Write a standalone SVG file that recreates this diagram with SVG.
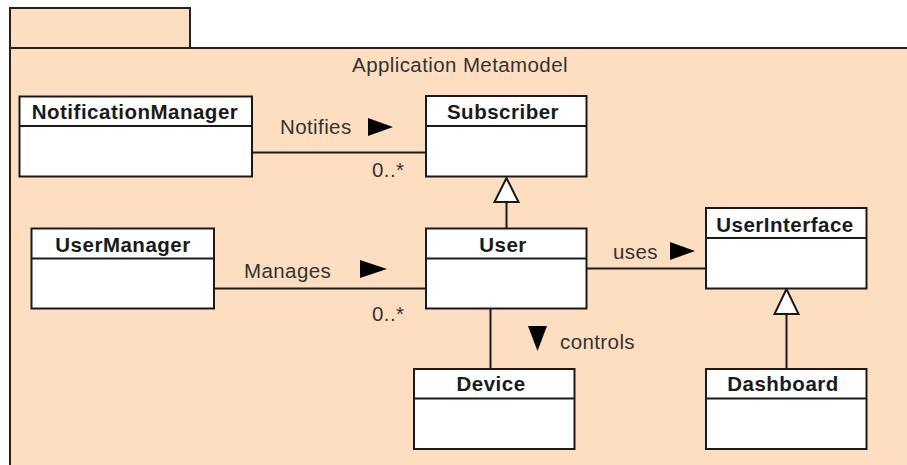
<svg xmlns="http://www.w3.org/2000/svg" width="907" height="465" viewBox="0 0 907 465">
<style>
.pkg{fill:#FEDEC0;stroke:#222;stroke-width:2}
.box{fill:#fff;stroke:#1a1a1a;stroke-width:2}
.div{stroke:#1a1a1a;stroke-width:2}
.cn{font-family:"Liberation Sans",Arial,sans-serif;font-weight:bold;font-size:20.5px;letter-spacing:0.5px;fill:#1a1a1a;text-anchor:middle}
.lbl{font-family:"Liberation Sans",Arial,sans-serif;font-size:20.5px;letter-spacing:0.4px;fill:#333}
.ln{stroke:#1a1a1a;stroke-width:2;fill:none}
.dir{fill:#000}
.gen{fill:#fff;stroke:#1a1a1a;stroke-width:2}
</style>
<rect width="907" height="465" fill="#fff"/>
<g id="package">
<rect class="pkg" x="10" y="8" width="180" height="40"/>
<rect class="pkg" x="10" y="48" width="910" height="430"/>
<text class="lbl" x="460" y="72" text-anchor="middle">Application Metamodel</text>
</g>
<g id="connectors">
<line class="ln" x1="252" y1="152.5" x2="426" y2="152.5"/>
<text class="lbl" x="280" y="134">Notifies</text>
<polygon class="dir" points="368,118 393,127 368,136"/>
<text class="lbl" x="372" y="177">0..*</text>
<line class="ln" x1="214" y1="288.5" x2="426" y2="288.5"/>
<text class="lbl" x="244" y="278">Manages</text>
<polygon class="dir" points="360,260 387,269 360,278"/>
<text class="lbl" x="372" y="321">0..*</text>
<line class="ln" x1="586" y1="268.5" x2="706" y2="268.5"/>
<text class="lbl" x="613" y="259">uses</text>
<polygon class="dir" points="670,242 695,251 670,260"/>
<line class="ln" x1="490.5" y1="308" x2="490.5" y2="369"/>
<polygon class="dir" points="528,326 547,326 537.5,351"/>
<text class="lbl" x="560" y="349">controls</text>
<line class="ln" x1="506.5" y1="202" x2="506.5" y2="228"/>
<polygon class="gen" points="506.5,178 494.5,202 518.5,202"/>
<line class="ln" x1="786.5" y1="314" x2="786.5" y2="369"/>
<polygon class="gen" points="786.5,289 774.5,314 798.5,314"/>
</g>
<g id="NotificationManager">
<rect class="box" x="19.5" y="96.5" width="232.5" height="80"/>
<line class="div" x1="19.5" y1="126" x2="252" y2="126"/>
<text class="cn" x="135" y="119">NotificationManager</text>
</g>
<g id="Subscriber">
<rect class="box" x="426" y="96" width="160.5" height="80.5"/>
<line class="div" x1="426" y1="126" x2="586.5" y2="126"/>
<text class="cn" x="503" y="119">Subscriber</text>
</g>
<g id="UserManager">
<rect class="box" x="31.5" y="228.5" width="182.5" height="80"/>
<line class="div" x1="31.5" y1="258.5" x2="214" y2="258.5"/>
<text class="cn" x="123" y="251.5">UserManager</text>
</g>
<g id="User">
<rect class="box" x="426" y="228.5" width="160.5" height="80"/>
<line class="div" x1="426" y1="258.5" x2="586.5" y2="258.5"/>
<text class="cn" x="503" y="251.5">User</text>
</g>
<g id="UserInterface">
<rect class="box" x="706" y="208" width="160.5" height="80.5"/>
<line class="div" x1="706" y1="238" x2="866.5" y2="238"/>
<text class="cn" x="785" y="231.5">UserInterface</text>
</g>
<g id="Device">
<rect class="box" x="414" y="369" width="160.5" height="80"/>
<line class="div" x1="414" y1="398.5" x2="574.5" y2="398.5"/>
<text class="cn" x="491" y="391">Device</text>
</g>
<g id="Dashboard">
<rect class="box" x="706" y="369" width="160.5" height="80"/>
<line class="div" x1="706" y1="398.5" x2="866.5" y2="398.5"/>
<text class="cn" x="783" y="391">Dashboard</text>
</g>
</svg>
